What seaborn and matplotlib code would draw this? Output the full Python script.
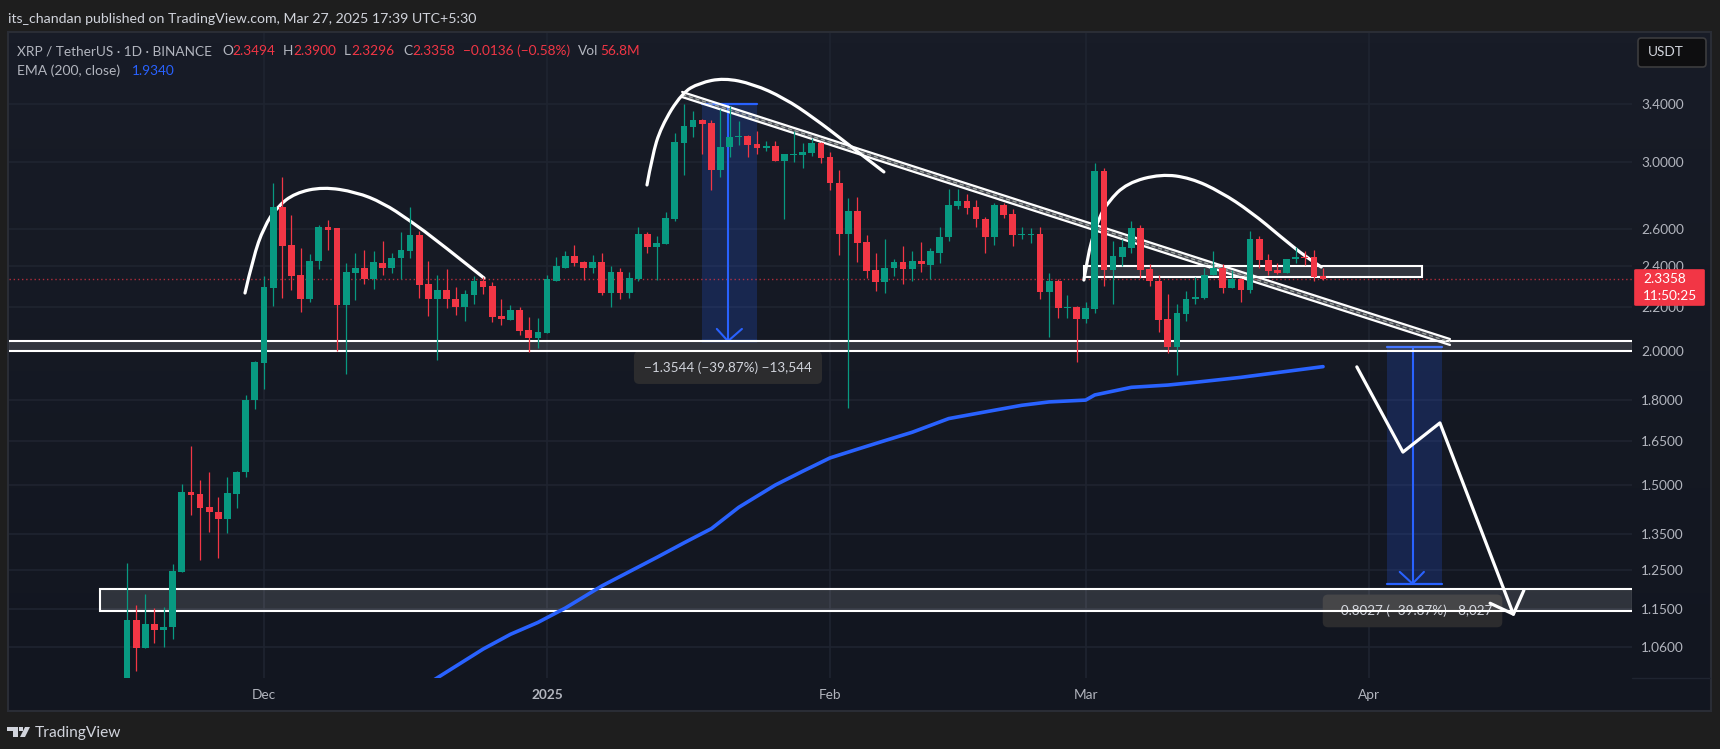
import matplotlib
matplotlib.use('Agg')
import matplotlib.pyplot as plt
from matplotlib.patches import Rectangle, FancyBboxPatch, Polygon, PathPatch
from matplotlib.path import Path
import numpy as np
import pandas as pd
import seaborn as sns

# Candles, XRP/USDT daily
first_day = '2024-11-16'
opens = [
    0.98, 1.122, 1.057, 1.114, 1.100, 1.105, 1.245, 1.477, 1.471, 1.432,
    1.415, 1.396, 1.471, 1.541, 1.800, 1.950, 2.288, 2.723, 2.509, 2.352,
    2.238, 2.424, 2.608, 2.602, 2.206, 2.362, 2.392, 2.332, 2.414, 2.392,
    2.440, 2.477, 2.563, 2.307, 2.234, 2.278, 2.234, 2.197, 2.253, 2.322,
    2.297, 2.155, 2.136, 2.182, 2.091, 2.055, 2.077, 2.322, 2.392, 2.450,
    2.419, 2.392, 2.419, 2.263, 2.368, 2.263, 2.332, 2.569, 2.498, 2.514,
    2.653, 3.124, 3.233, 3.282, 3.261, 2.947, 3.097, 3.164, 3.171, 3.117,
    3.090, 3.104, 3.004, 3.044, 3.044, 3.057, 3.124, 3.030, 2.866, 2.569,
    2.698, 2.525, 2.378, 2.317, 2.388, 2.419, 2.383, 2.424, 2.403, 2.466,
    2.552, 2.728, 2.757, 2.723, 2.653, 2.552, 2.734, 2.682, 2.563, 2.563,
    2.569, 2.268, 2.322, 2.191, 2.197, 2.141, 2.187, 2.941, 2.378, 2.445,
    2.492, 2.602, 2.383, 2.322, 2.141, 2.017, 2.163, 2.234, 2.243, 2.352,
    2.388, 2.288, 2.332, 2.278, 2.541, 2.429, 2.378, 2.362, 2.434, 2.445,
    2.445, 2.3494]
closes = [
    1.122, 1.057, 1.114, 1.100, 1.105, 1.248, 1.477, 1.468, 1.429, 1.415,
    1.396, 1.474, 1.541, 1.800, 1.954, 2.292, 2.723, 2.504, 2.347, 2.238,
    2.424, 2.608, 2.591, 2.206, 2.368, 2.392, 2.332, 2.419, 2.392, 2.440,
    2.482, 2.563, 2.302, 2.234, 2.278, 2.234, 2.197, 2.258, 2.322, 2.292,
    2.150, 2.141, 2.182, 2.086, 2.055, 2.082, 2.332, 2.398, 2.450, 2.414,
    2.392, 2.419, 2.263, 2.368, 2.263, 2.337, 2.569, 2.498, 2.520, 2.660,
    3.131, 3.240, 3.282, 3.254, 2.947, 3.097, 3.164, 3.171, 3.110, 3.090,
    3.104, 3.004, 3.050, 3.050, 3.063, 3.124, 3.024, 2.866, 2.569, 2.698,
    2.520, 2.373, 2.317, 2.392, 2.419, 2.383, 2.424, 2.408, 2.477, 2.552,
    2.734, 2.757, 2.717, 2.653, 2.552, 2.734, 2.676, 2.563, 2.569, 2.569,
    2.268, 2.322, 2.191, 2.197, 2.141, 2.191, 2.941, 2.378, 2.450, 2.498,
    2.602, 2.378, 2.322, 2.136, 2.017, 2.168, 2.234, 2.248, 2.352, 2.388,
    2.288, 2.332, 2.278, 2.541, 2.429, 2.373, 2.362, 2.434, 2.445, 2.440,
    2.342, 2.3358]
highs = [
    1.270, 1.160, 1.187, 1.152, 1.155, 1.267, 1.503, 1.631, 1.515, 1.541,
    1.462, 1.525, 1.545, 1.820, 1.958, 2.347, 2.866, 2.904, 2.676, 2.492,
    2.461, 2.619, 2.647, 2.602, 2.414, 2.466, 2.482, 2.477, 2.531, 2.466,
    2.580, 2.723, 2.586, 2.424, 2.352, 2.383, 2.292, 2.278, 2.347, 2.342,
    2.317, 2.238, 2.206, 2.197, 2.150, 2.145, 2.352, 2.445, 2.477, 2.509,
    2.424, 2.456, 2.466, 2.398, 2.392, 2.368, 2.608, 2.580, 2.558, 2.693,
    3.191, 3.397, 3.347, 3.289, 3.282, 3.360, 3.383, 3.275, 3.178, 3.205,
    3.137, 3.137, 3.050, 3.205, 3.124, 3.158, 3.131, 3.063, 2.947, 2.778,
    2.783, 2.563, 2.466, 2.541, 2.434, 2.504, 2.477, 2.525, 2.492, 2.608,
    2.829, 2.829, 2.799, 2.763, 2.665, 2.746, 2.746, 2.711, 2.608, 2.602,
    2.608, 2.362, 2.332, 2.253, 2.201, 2.220, 2.994, 2.960, 2.531, 2.541,
    2.641, 2.619, 2.408, 2.352, 2.258, 2.210, 2.273, 2.342, 2.388, 2.477,
    2.408, 2.378, 2.337, 2.586, 2.558, 2.461, 2.414, 2.434, 2.498, 2.477,
    2.482, 2.390]
lows = [
    0.950, 1.007, 1.057, 1.069, 1.059, 1.079, 1.245, 1.406, 1.277, 1.356,
    1.283, 1.353, 1.429, 1.525, 1.766, 1.845, 2.202, 2.243, 2.278, 2.173,
    2.220, 2.383, 2.482, 2.000, 1.903, 2.229, 2.307, 2.283, 2.352, 2.362,
    2.332, 2.440, 2.243, 2.155, 1.962, 2.191, 2.159, 2.131, 2.210, 2.258,
    2.127, 2.113, 2.136, 2.068, 1.996, 2.013, 2.077, 2.322, 2.392, 2.398,
    2.327, 2.362, 2.253, 2.197, 2.234, 2.243, 2.322, 2.466, 2.327, 2.514,
    2.641, 2.916, 3.164, 3.050, 2.823, 2.904, 3.030, 3.110, 3.030, 3.050,
    3.070, 3.004, 2.653, 2.998, 2.960, 3.037, 2.991, 2.823, 2.456, 1.771,
    2.419, 2.337, 2.273, 2.263, 2.347, 2.307, 2.322, 2.368, 2.332, 2.414,
    2.531, 2.711, 2.682, 2.608, 2.466, 2.509, 2.659, 2.504, 2.546, 2.520,
    2.234, 2.060, 2.145, 2.145, 1.954, 2.123, 2.168, 2.297, 2.210, 2.398,
    2.466, 2.337, 2.297, 2.082, 1.992, 1.899, 2.131, 2.210, 2.238, 2.352,
    2.263, 2.288, 2.220, 2.263, 2.388, 2.352, 2.360, 2.362, 2.414, 2.403,
    2.322, 2.3296]

# EMA 200, days counted from 1 Dec 2024
ema_days = [18, 24, 27, 30, 33, 37, 43, 46, 49, 52, 56, 59, 62, 65, 68, 71, 75, 79, 83, 86,
            90, 91, 95, 99, 102, 107, 116]
ema_values = [0.98, 1.055, 1.089, 1.117, 1.152, 1.208, 1.284, 1.325, 1.366, 1.43, 1.50, 1.545,
              1.59, 1.62, 1.65, 1.68, 1.73, 1.755, 1.78, 1.793, 1.80, 1.82, 1.85, 1.859, 1.87,
              1.89, 1.934]

# Hand drawn domes
dome1_days = [-2.08, -1.20, 0, 1.42, 3.40, 6.46, 10.08, 13.03, 15.88, 19.28, 24.1]
dome1_prices = [2.265, 2.442, 2.610, 2.724, 2.807, 2.844, 2.813, 2.748, 2.649, 2.522, 2.339]
dome2_days = [41.95, 42.5, 43.48, 45.78, 47.70, 50.38, 53.56, 56.96, 60.24, 63.64, 67.9]
dome2_prices = [2.856, 3.033, 3.234, 3.479, 3.555, 3.593, 3.547, 3.442, 3.297, 3.132, 2.937]
dome3_days = [89.8, 90.25, 90.58, 91.46, 92.44, 94.52, 98.25, 101.5, 104.8, 108.1, 111.4, 114.1, 115.8]
dome3_prices = [2.329, 2.447, 2.522, 2.661, 2.753, 2.868, 2.924, 2.899, 2.813, 2.695, 2.554, 2.447, 2.395]

# Falling trend channel
trend_days = [45.8, 129.9]
trend_upper = [3.487, 2.052]
trend_lower = [3.449, 2.026]

# Forecast zigzag and its arrow head
zigzag_days = [119.7, 124.75, 128.8, 136.85]
zigzag_prices = [1.933, 1.610, 1.714, 1.137]
head_days = [134.3, 136.85, 138.0]
head_prices = [1.164, 1.137, 1.197]

# Zones: first day, last day, low, high
zones = [(-28, 150, 2.002, 2.043), (89.8, 126.85, 2.342, 2.400), (-18, 150, 1.144, 1.201)]

# Price range tools
range1 = dict(start=48, end=54, mid=50.82, top=3.3972, bottom=2.0428, wing=2.097,
              wing_days=(49.6, 52.35), text='\u22121.3544 (\u221239.87%) \u221213,544', text_price=1.930)
range2 = dict(start=123, end=129, mid=125.8, top=2.0166, bottom=1.2139, wing=1.245,
              wing_days=(124.4, 127.05), text='\u22120.8027 (\u221239.87%) \u22128,027', text_price=1.145)

price_ticks = [1.06, 1.15, 1.25, 1.35, 1.5, 1.65, 1.8, 2.0, 2.2, 2.4, 2.6, 3.0, 3.4]
month_days = [0, 31, 62, 90, 121]
month_labels = ['Dec', '2025', 'Feb', 'Mar', 'Apr']
last_price = 2.3358

GREEN = '#089981'
RED = '#f23645'
BLUE = '#2962ff'
TEXT = '#d1d4dc'
AXIS_TEXT = '#b2b5be'
W, H = 1720, 749

sns.set_theme(style='dark')
plt.rcParams['font.family'] = ['Lato', 'DejaVu Sans']

df = pd.DataFrame({'date': pd.date_range(first_day, periods=len(opens)),
                   'open': opens, 'high': highs, 'low': lows, 'close': closes})
df['day'] = (df['date'] - pd.Timestamp('2024-12-01')).dt.days
df['color'] = np.where(df['close'] >= df['open'], GREEN, RED)


def fx(x):
    return x / W


def fy(y):
    return 1 - y / H


def dome_patch(days, prices):
    # quadratic curves through the picked points, so the dome stays round
    pts = list(zip(days, prices))
    verts = [pts[0]]
    codes = [Path.MOVETO]
    for i in range(1, len(pts) - 1):
        end = pts[i + 1] if i == len(pts) - 2 else ((pts[i][0] + pts[i + 1][0]) / 2, (pts[i][1] + pts[i + 1][1]) / 2)
        verts += [pts[i], end]
        codes += [Path.CURVE3, Path.CURVE3]
    return PathPatch(Path(verts, codes), fc='none', ec='white', lw=2.3, capstyle='round', zorder=2.5)


fig = plt.figure(figsize=(W / 100, H / 100), dpi=100, facecolor='#1e1e1e')

# panel with its soft vertical gradient
bg = fig.add_axes([fx(9), fy(710), fx(1701), 678 / H], zorder=-1)
bg.imshow(np.linspace(0, 1, 64)[:, None], aspect='auto',
          cmap=matplotlib.colors.LinearSegmentedColormap.from_list('p', ['#181c27', '#121620']))
bg.axis('off')
fig.add_artist(Rectangle((fx(8), fy(711)), fx(1703), 679 / H, transform=fig.transFigure,
                         fc='none', ec='#2a2d35', lw=1.5, zorder=0))

ax = fig.add_axes([fx(9), fy(678), fx(1623), 645 / H], zorder=1)
ax.patch.set_visible(False)
for s in ax.spines.values():
    s.set_visible(False)
ax.set_yscale('log')
ax.set_axisbelow(True)

# price range tools
for r in (range1, range2):
    ax.add_patch(Rectangle((r['start'], r['bottom']), r['end'] - r['start'], r['top'] - r['bottom'],
                           fc=BLUE, alpha=0.2, ec='none', zorder=1))
    ax.plot([r['start'], r['end']], [r['top'], r['top']], color=BLUE, lw=1.6, zorder=1.2)
    ax.plot([r['start'], r['end']], [r['bottom'], r['bottom']], color=BLUE, lw=1.6, zorder=1.2)
    ax.plot([r['mid'], r['mid']], [r['top'], r['bottom']], color=BLUE, lw=1.5, zorder=1.2)
    ax.plot([r['wing_days'][0], r['mid'], r['wing_days'][1]], [r['wing'], r['bottom'], r['wing']],
            color=BLUE, lw=1.5, zorder=1.2)
    ax.text(r['mid'], r['text_price'], r['text'], color=TEXT, fontsize=9.7, ha='center', va='center',
            zorder=1.5, bbox=dict(boxstyle='round,pad=0.75,rounding_size=0.4', fc='#2c2c2e', ec='none'))

# zones
for d0, d1, lo, hi in zones:
    ax.add_patch(Rectangle((d0, lo), d1 - d0, hi - lo, fc='white', alpha=0.125, ec='none', zorder=2))
    ax.add_patch(Rectangle((d0, lo), d1 - d0, hi - lo, fc='none', ec='white', lw=1.5, zorder=2.1))

# channel
ax.fill_between(trend_days, trend_lower, trend_upper, color='white', alpha=0.2, lw=0, zorder=2)
ax.plot(trend_days, trend_upper, color='white', lw=1.6, zorder=2.1)
ax.plot(trend_days, trend_lower, color='white', lw=1.6, zorder=2.1)
ax.plot(trend_days, np.sqrt(np.array(trend_upper) * np.array(trend_lower)), color='#9aa09c',
        lw=1, ls=(0, (3, 2)), zorder=2.1)

# domes and forecast
for days, prices in [(dome1_days, dome1_prices), (dome2_days, dome2_prices), (dome3_days, dome3_prices)]:
    ax.add_patch(dome_patch(days, prices))
for days, prices in [(zigzag_days, zigzag_prices), (head_days, head_prices)]:
    ax.plot(days, prices, color='white', lw=2.3, solid_joinstyle='round', solid_capstyle='round', zorder=2.5)

ax.axhline(last_price, color=RED, lw=1, ls=(0, (1, 2)), alpha=0.7, zorder=1)

sns.lineplot(x=ema_days, y=ema_values, ax=ax, color=BLUE, lw=2.6, zorder=3,
             solid_capstyle='round', errorbar=None)

# candles
ax.vlines(df['day'], df['low'], df['high'], colors=df['color'], lw=0.9, zorder=4)
ax.bar(df['day'], (df['close'] - df['open']).abs(), bottom=df[['open', 'close']].min(axis=1),
       width=0.74, color=df['color'], lw=0, zorder=4.1)

ax.set_xlim(-27.93, 149.84)
ax.set_ylim(0.9915, 3.957)
ax.set_xlabel('')
ax.set_ylabel('')
ax.yaxis.tick_right()
ax.set_yticks(price_ticks, labels=[f'{p:.4f}' for p in price_ticks])
ax.minorticks_off()
ax.set_xticks(month_days, labels=month_labels)
ax.grid(True, color='#1f2430', lw=1.2)
ax.tick_params(axis='y', length=0, pad=6.5, labelcolor=AXIS_TEXT, labelsize=9.8)
ax.tick_params(axis='x', length=0, pad=8, labelcolor=AXIS_TEXT, labelsize=9.8)
ax.get_xticklabels()[1].set_fontweight('bold')

fig.add_artist(plt.Line2D([fx(1632), fx(1710)], [fy(678), fy(678)], color='#1f2430', lw=1, zorder=2))

# last price tag
fig.add_artist(FancyBboxPatch((fx(1635), fy(305)), fx(69), 35 / H, boxstyle='round,pad=0,rounding_size=0.0006',
                              mutation_aspect=1, transform=fig.transFigure, fc=RED, ec=RED, lw=1.2, zorder=5))
fig.text(fx(1643), fy(279), f'{last_price:.4f}', color='white', fontsize=9.8, va='center', zorder=6)
fig.text(fx(1643), fy(296), '11:50:25', color='white', fontsize=9.8, va='center', zorder=6)

# currency button
fig.add_artist(FancyBboxPatch((fx(1638), fy(67)), fx(68), 29 / H, boxstyle='round,pad=0,rounding_size=0.002',
                              mutation_aspect=2.3, transform=fig.transFigure, fc='#0e0e10', ec='#3c3c3e', lw=1.2, zorder=5))
fig.text(fx(1648), fy(52), 'USDT', color=TEXT, fontsize=9.8, va='center', zorder=6)

# header and legend
fig.text(fx(8), fy(19), 'its_chandan published on TradingView.com, Mar 27, 2025 17:39 UTC+5:30',
         color=TEXT, fontsize=10.2, va='center')
legend_bits = [(17, 'XRP / TetherUS \u00b7 1D \u00b7 BINANCE', AXIS_TEXT), (222, 'O', AXIS_TEXT), (232, '2.3494', RED),
               (283, 'H', AXIS_TEXT), (293, '2.3900', RED), (344, 'L', AXIS_TEXT), (351, '2.3296', RED),
               (403, 'C', AXIS_TEXT), (412, '2.3358', RED), (463, '\u22120.0136 (\u22120.58%)', RED),
               (578, 'Vol', AXIS_TEXT), (600, '56.8M', RED)]
for x, s, c in legend_bits:
    fig.text(fx(x), fy(51), s, color=c, fontsize=9.8, va='center')
fig.text(fx(17), fy(71), 'EMA (200, close)', color=AXIS_TEXT, fontsize=10, va='center')
fig.text(fx(132), fy(71), '1.9340', color=BLUE, fontsize=9.8, va='center')

# TradingView mark
logo = '#d1d4dc'
fig.add_artist(Polygon([(fx(7), fy(727)), (fx(18), fy(727)), (fx(18), fy(737)), (fx(13), fy(737)),
                        (fx(13), fy(731)), (fx(7), fy(731))], transform=fig.transFigure, fc=logo, ec='none'))
fig.add_artist(Polygon([(fx(25), fy(727)), (fx(30), fy(727)), (fx(25), fy(737)), (fx(20), fy(737))],
                       transform=fig.transFigure, fc=logo, ec='none'))
fig.add_artist(Rectangle((fx(19), fy(731)), fx(4), 4 / H, transform=fig.transFigure, fc=logo, ec='none'))
fig.text(fx(35), fy(733), 'TradingView', color=TEXT, fontsize=11.2, va='center')

fig.savefig('out.png', dpi=100, facecolor=fig.get_facecolor())
